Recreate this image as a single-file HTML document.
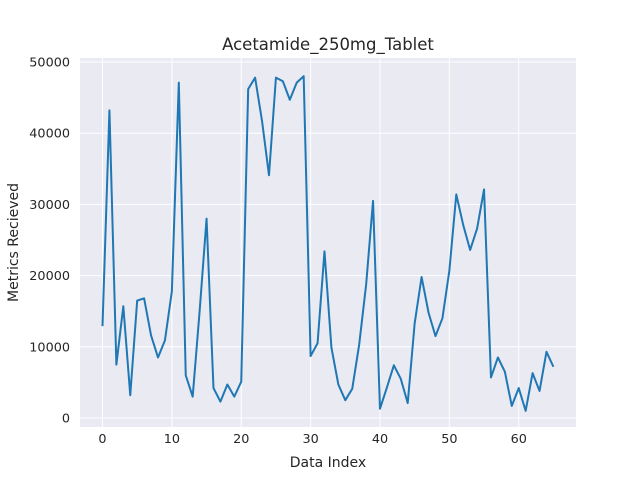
<!DOCTYPE html>
<html><head><meta charset="utf-8"><style>
body{margin:0;background:#fff;font-family:"Liberation Sans","DejaVu Sans",sans-serif}
</style></head><body>
<svg id="chart" width="640" height="480" xmlns="http://www.w3.org/2000/svg" font-family="DejaVu Sans, Liberation Sans, sans-serif"></svg>
<script>
const xValues = Array.from({length:66},(_,i)=>i);
const yValues = [12900,43200,7500,15700,3200,16500,16800,11600,8500,10900,17800,47100,6000,3000,15000,28000,4200,2300,4700,3000,5100,46200,47800,41700,34100,47800,47300,44700,47100,48000,8700,10500,23400,9900,4700,2500,4100,10300,18700,30500,1300,4300,7400,5500,2100,13300,19800,14800,11500,14000,20700,31400,27100,23600,26600,32100,5700,8500,6500,1700,4200,1000,6300,3800,9300,7200];
const xTicks = [0,10,20,30,40,50,60];
const yTicks = [0,10000,20000,30000,40000,50000];
const L=80,R=576,T=58,B=427;
const xs=v=>102.5+v*6.937;
const ys=v=>418-v*0.00712;
const svg=document.getElementById('chart');
const NS='http://www.w3.org/2000/svg';
function mk(t,a,p){const e=document.createElementNS(NS,t);for(const k in a)e.setAttribute(k,a[k]);(p||svg).appendChild(e);return e;}
const bg=mk('rect',{x:L,y:T,width:R-L,height:B-T,fill:'#eaeaf2'});


xTicks.forEach(t=>{
  const g=mk('line',{x1:xs(t),x2:xs(t),y1:T,y2:B,stroke:'#fff','stroke-width':1});
  
  
  const tx=mk('text',{x:xs(t),y:B+16,'text-anchor':'middle','font-size':12.8,fill:'#262626'});
  tx.textContent=t;
  
  
});
yTicks.forEach(t=>{
  const g=mk('line',{x1:L,x2:R,y1:ys(t),y2:ys(t),stroke:'#fff','stroke-width':1});
  
  
  const tx=mk('text',{x:L-10,y:ys(t)+4.5,'text-anchor':'end','font-size':12.8,fill:'#262626'});
  tx.textContent=t;
  
  
});
const line=mk('polyline',{points:xValues.map((x,i)=>xs(x)+','+ys(yValues[i])).join(' '),fill:'none',stroke:'#1f77b4','stroke-width':2,'stroke-linejoin':'round'});


const title=mk('text',{x:(L+R)/2,y:50,'text-anchor':'middle','font-size':16.5,fill:'#262626'});
title.textContent='Acetamide_250mg_Tablet';


const xl=mk('text',{x:(L+R)/2,y:467,'text-anchor':'middle','font-size':14,fill:'#262626'});
xl.textContent='Data Index';


const yl=mk('text',{x:0,y:0,'text-anchor':'middle','font-size':14,fill:'#262626',transform:'translate(18,'+((T+B)/2)+') rotate(-90)'});
yl.textContent='Metrics Recieved';


</script>
</body></html>
